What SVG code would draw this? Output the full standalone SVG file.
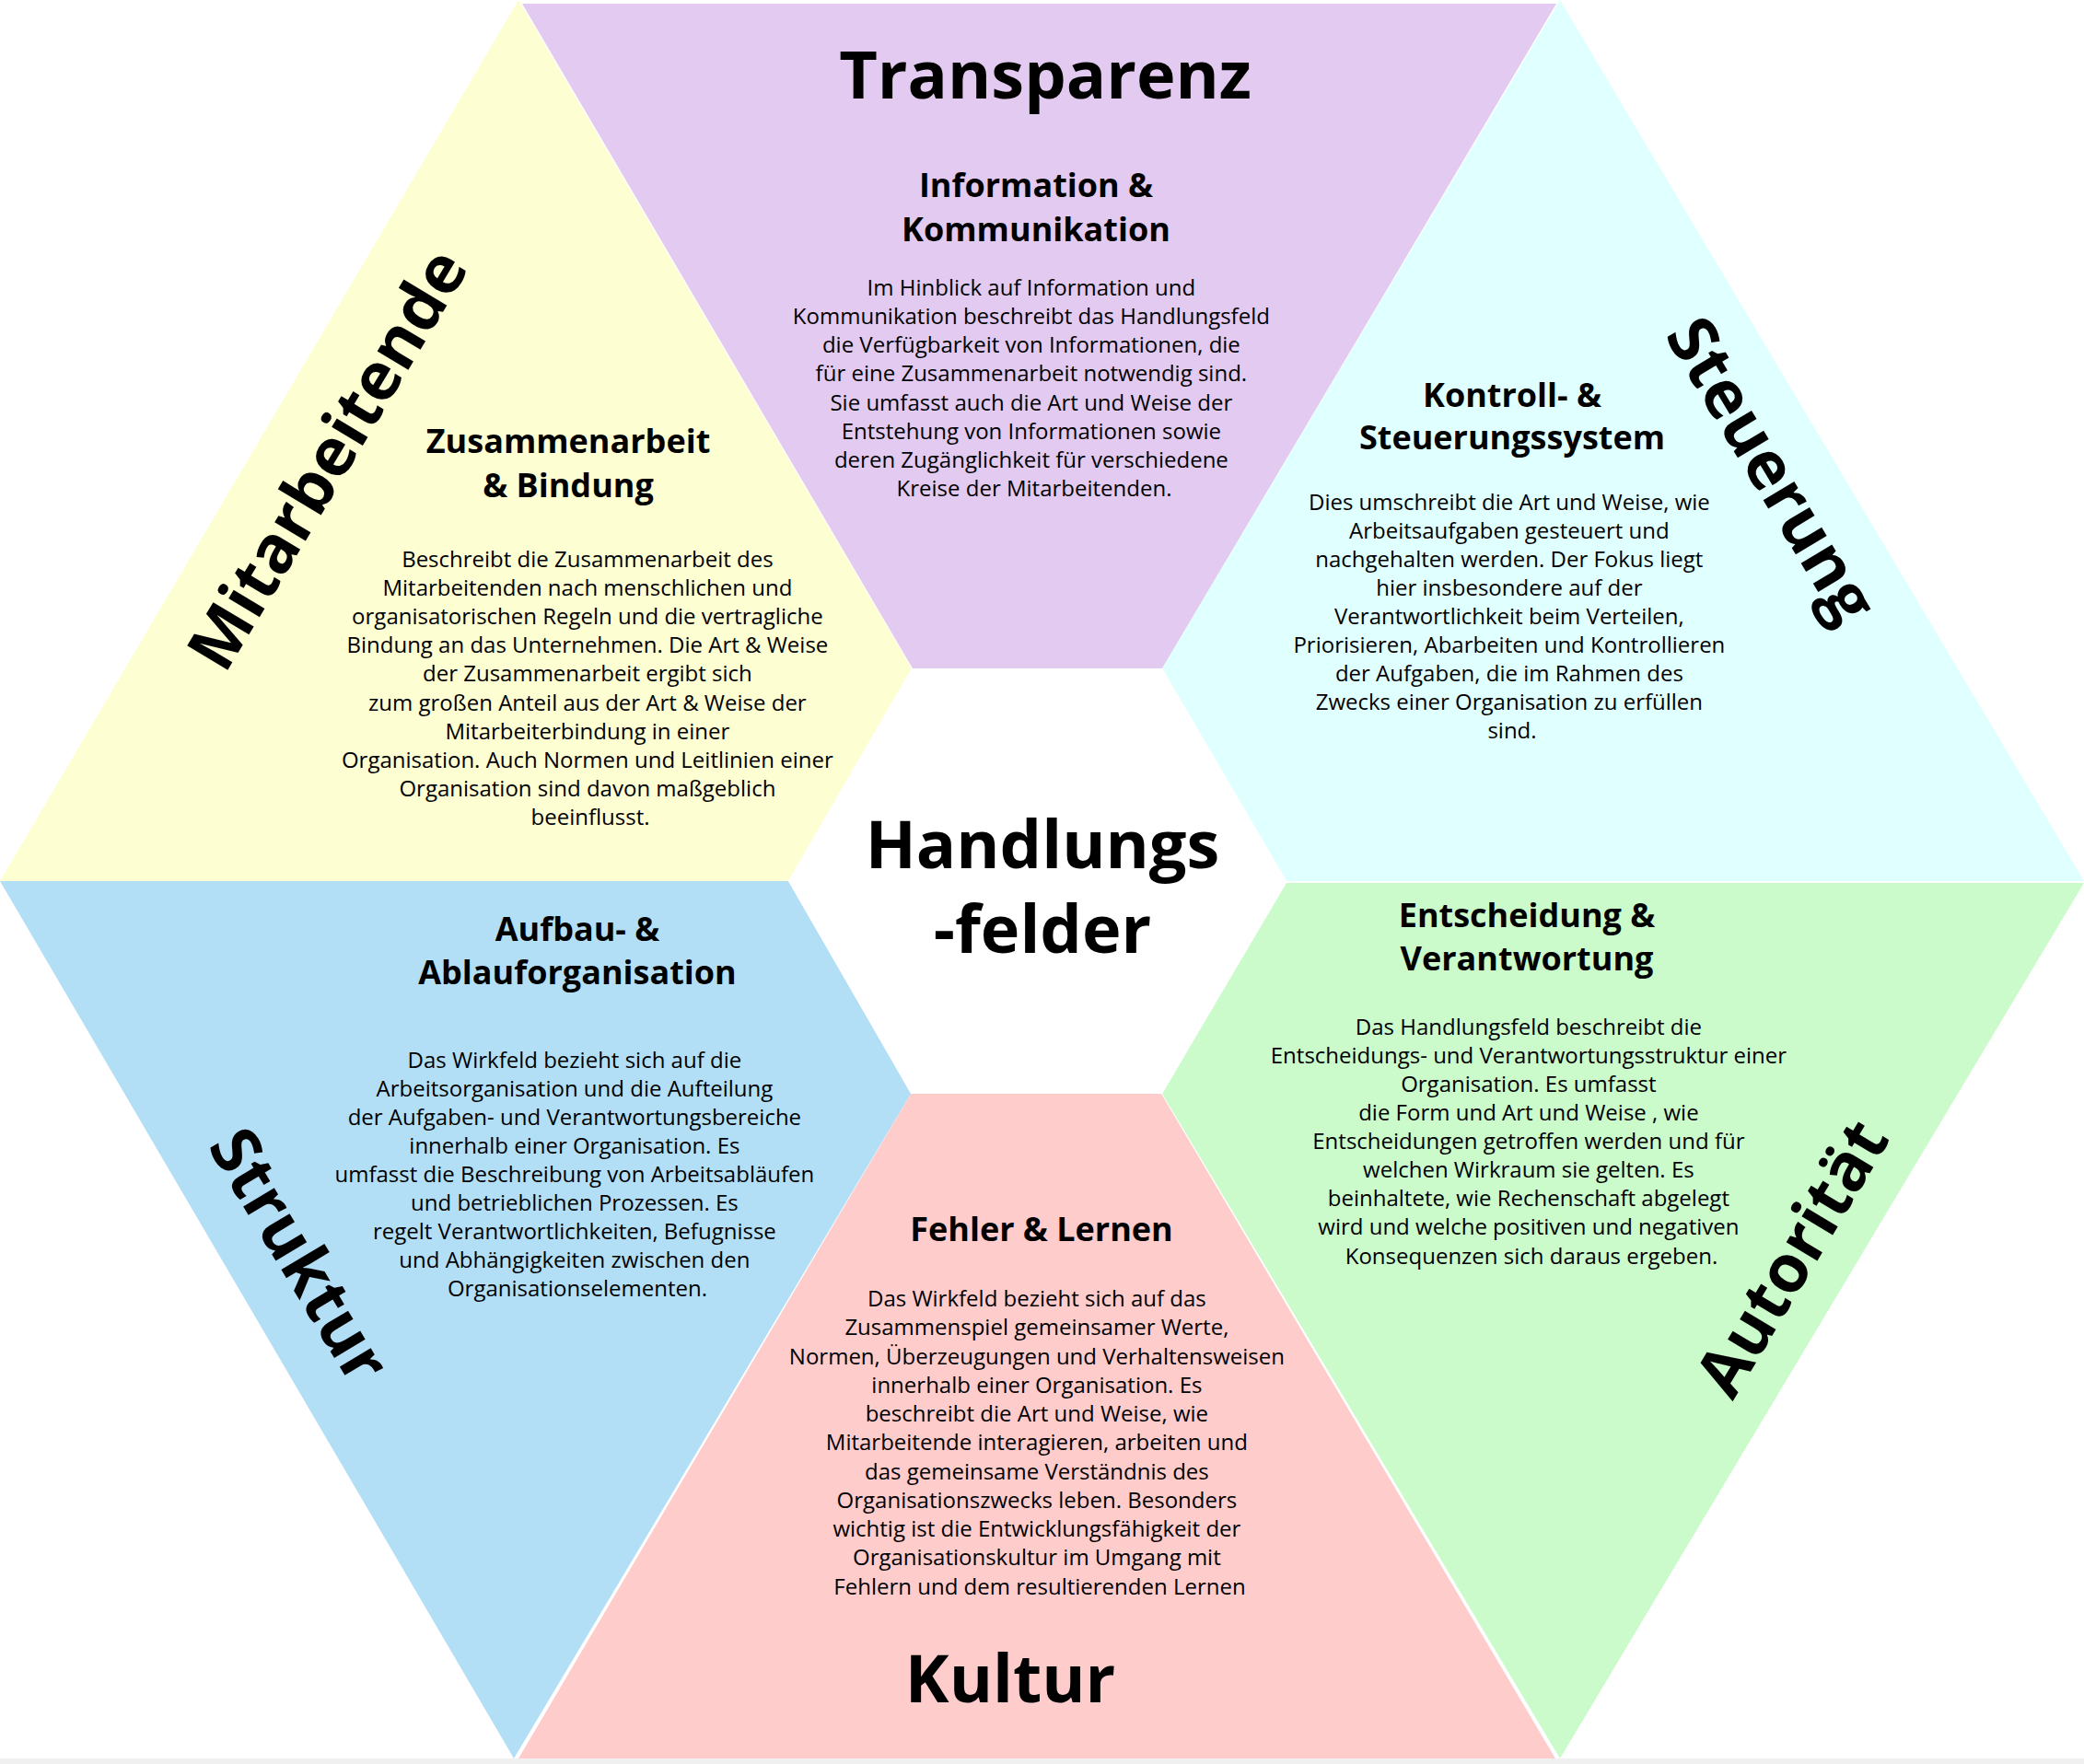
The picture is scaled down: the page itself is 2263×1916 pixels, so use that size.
<svg xmlns="http://www.w3.org/2000/svg" width="2263" height="1916" viewBox="0 0 2263 1916">
<style>
text{font-family:"Open Sans","Noto Sans","Liberation Sans",sans-serif;fill:#000;text-anchor:middle}
.big{font-size:72px;font-weight:700}
.ttl{font-size:36px;font-weight:700}
.body{font-size:24px}
</style>
<rect x="0" y="0" width="2263" height="1916" fill="#ffffff"/>
<rect x="0" y="1910" width="2263" height="6" fill="#f0f0f0"/>

<g id="transparenz">
<polygon points="567,4 1690,4 1262,726 991,726" fill="#e3caf0"/>
<text class="big" x="1135" y="107">Transparenz</text>
<text class="ttl"><tspan x="1125" y="214">Information &amp;</tspan><tspan x="1125" y="262">Kommunikation</tspan></text>
<text class="body">
<tspan x="1123" y="321">Im Hinblick auf Information und</tspan>
<tspan x="1123" y="352">Kommunikation beschreibt das Handlungsfeld</tspan>
<tspan x="1123" y="383">die Verfügbarkeit von Informationen, die</tspan>
<tspan x="1123" y="414">für eine Zusammenarbeit notwendig sind.</tspan>
<tspan x="1123" y="446">Sie umfasst auch die Art und Weise der</tspan>
<tspan x="1123" y="477">Entstehung von Informationen sowie</tspan>
<tspan x="1123" y="508">deren Zugänglichkeit für verschiedene</tspan>
<tspan x="1123" y="539">Kreise der Mitarbeitenden.</tspan>
</text>
</g>

<g id="steuerung">
<polygon points="1694,0 2263,957 1397,957 1262,726" fill="#e0ffff"/>
<text class="big" transform="translate(1918,514) rotate(59)" x="0" y="18">Steuerung</text>
<text class="ttl"><tspan x="1642" y="442">Kontroll- &amp;</tspan><tspan x="1642" y="488">Steuerungssystem</tspan></text>
<text class="body">
<tspan x="1642" y="554">Dies umschreibt die Art und Weise, wie</tspan>
<tspan x="1642" y="585">Arbeitsaufgaben gesteuert und</tspan>
<tspan x="1642" y="616">nachgehalten werden. Der Fokus liegt</tspan>
<tspan x="1642" y="647">hier insbesondere auf der</tspan>
<tspan x="1642" y="678">Verantwortlichkeit beim Verteilen,</tspan>
<tspan x="1642" y="709">Priorisieren, Abarbeiten und Kontrollieren</tspan>
<tspan x="1642" y="740">der Aufgaben, die im Rahmen des</tspan>
<tspan x="1642" y="771">Zwecks einer Organisation zu erfüllen</tspan>
<tspan x="1642" y="802">sind.</tspan>
</text>
</g>

<g id="autoritaet">
<polygon points="2263,959 1694,1910 1262,1188 1397,959" fill="#cbfacb"/>
<text class="big" transform="translate(1945,1366) rotate(-59)" x="0" y="26">Autorität</text>
<text class="ttl"><tspan x="1658" y="1007">Entscheidung &amp;</tspan><tspan x="1658" y="1054">Verantwortung</tspan></text>
<text class="body">
<tspan x="1663" y="1124">Das Handlungsfeld beschreibt die</tspan>
<tspan x="1663" y="1155">Entscheidungs- und Verantwortungsstruktur einer</tspan>
<tspan x="1663" y="1186">Organisation. Es umfasst</tspan>
<tspan x="1663" y="1217">die Form und Art und Weise , wie</tspan>
<tspan x="1663" y="1248">Entscheidungen getroffen werden und für</tspan>
<tspan x="1663" y="1279">welchen Wirkraum sie gelten. Es</tspan>
<tspan x="1663" y="1310">beinhaltete, wie Rechenschaft abgelegt</tspan>
<tspan x="1663" y="1341">wird und welche positiven und negativen</tspan>
<tspan x="1663" y="1373">Konsequenzen sich daraus ergeben.</tspan>
</text>
</g>

<g id="kultur">
<polygon points="563,1910 1689,1910 1261,1188 989,1188" fill="#ffcccc"/>
<text class="big" x="1097" y="1849">Kultur</text>
<text class="ttl" x="1131" y="1348">Fehler &amp; Lernen</text>
<text class="body">
<tspan x="1129" y="1419">Das Wirkfeld bezieht sich auf das</tspan>
<tspan x="1129" y="1450">Zusammenspiel gemeinsamer Werte,</tspan>
<tspan x="1129" y="1482">Normen, Überzeugungen und Verhaltensweisen</tspan>
<tspan x="1129" y="1513">innerhalb einer Organisation. Es</tspan>
<tspan x="1129" y="1544">beschreibt die Art und Weise, wie</tspan>
<tspan x="1129" y="1575">Mitarbeitende interagieren, arbeiten und</tspan>
<tspan x="1129" y="1607">das gemeinsame Verständnis des</tspan>
<tspan x="1129" y="1638">Organisationszwecks leben. Besonders</tspan>
<tspan x="1129" y="1669">wichtig ist die Entwicklungsfähigkeit der</tspan>
<tspan x="1129" y="1700">Organisationskultur im Umgang mit</tspan>
<tspan x="1129" y="1732">Fehlern und dem resultierenden Lernen</tspan>
</text>
</g>

<g id="struktur">
<polygon points="0,957 856,957 989,1188 558,1910" fill="#b3dff6"/>
<text class="big" transform="translate(326,1363) rotate(59)" x="0" y="26">Struktur</text>
<text class="ttl"><tspan x="627" y="1022">Aufbau- &amp;</tspan><tspan x="627" y="1069">Ablauforganisation</tspan></text>
<text class="body">
<tspan x="627" y="1160">Das Wirkfeld bezieht sich auf die</tspan>
<tspan x="627" y="1191">Arbeitsorganisation und die Aufteilung</tspan>
<tspan x="627" y="1222">der Aufgaben- und Verantwortungsbereiche</tspan>
<tspan x="627" y="1253">innerhalb einer Organisation. Es</tspan>
<tspan x="627" y="1284">umfasst die Beschreibung von Arbeitsabläufen</tspan>
<tspan x="627" y="1315">und betrieblichen Prozessen. Es</tspan>
<tspan x="627" y="1346">regelt Verantwortlichkeiten, Befugnisse</tspan>
<tspan x="627" y="1377">und Abhängigkeiten zwischen den</tspan>
<tspan x="627" y="1408">Organisationselementen.</tspan>
</text>
</g>

<g id="mitarbeitende">
<polygon points="563,0 990,726 856,957 0,957" fill="#fefed3"/>
<text class="big" transform="translate(354,498) rotate(-59)" x="0" y="27">Mitarbeitende</text>
<text class="ttl"><tspan x="617" y="492">Zusammenarbeit</tspan><tspan x="617" y="540">&amp; Bindung</tspan></text>
<text class="body">
<tspan x="641" y="616">Beschreibt die Zusammenarbeit des</tspan>
<tspan x="641" y="647">Mitarbeitenden nach menschlichen und</tspan>
<tspan x="641" y="678">organisatorischen Regeln und die vertragliche</tspan>
<tspan x="641" y="709">Bindung an das Unternehmen. Die Art &amp; Weise</tspan>
<tspan x="641" y="740">der Zusammenarbeit ergibt sich</tspan>
<tspan x="641" y="772">zum großen Anteil aus der Art &amp; Weise der</tspan>
<tspan x="641" y="803">Mitarbeiterbindung in einer</tspan>
<tspan x="641" y="834">Organisation. Auch Normen und Leitlinien einer</tspan>
<tspan x="641" y="865">Organisation sind davon maßgeblich</tspan>
<tspan x="641" y="896">beeinflusst.</tspan>
</text>
</g>

<g id="handlungsfelder">
<polygon points="990,726 1262,726 1397,957 1262,1188 990,1188 856,957" fill="#ffffff"/>
<text class="big" x="1132" y="943">Handlungs</text>
<text class="big" x="1132" y="1035">-felder</text>
</g>
</svg>
